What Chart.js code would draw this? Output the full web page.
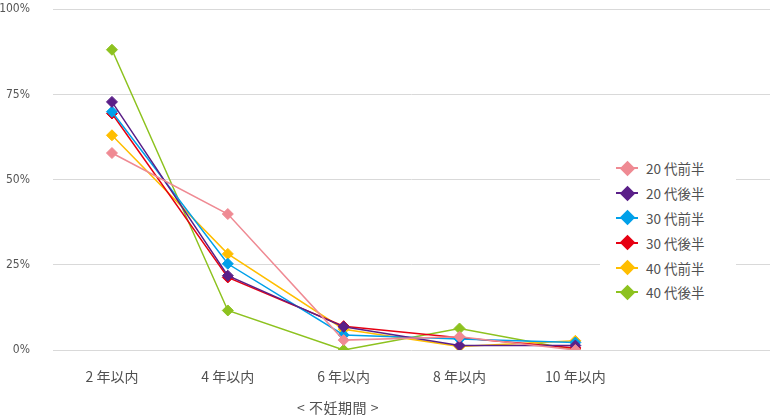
<!DOCTYPE html>
<html lang="ja">
<head>
<meta charset="utf-8">
<script src="https://cdn.jsdelivr.net/npm/chart.js@4"></script>
<style>
  html, body { margin: 0; padding: 0; background: #fff; }
  #wrap { position: relative; width: 770px; height: 415px; font-family: "Noto Sans CJK JP", "Noto Sans", sans-serif; }
  #chart { position: absolute; left: 0; top: 0; }
  #legend {
    position: absolute; left: 600px; top: 156px; width: 136px; height: 150px;
    background: #fff; box-sizing: border-box; padding-left: 16px; padding-top: 0;
  }
  .item { height: 24.8px; display: flex; align-items: center; font-size: 13.5px; color: #505050; }
  .mark { position: relative; width: 22px; height: 14px; margin-right: 8px; }
  .mark .ln { position: absolute; left: 0; top: 6px; width: 22px; height: 2px; }
  .mark .dm { position: absolute; left: 5.5px; top: 1.5px; width: 11px; height: 11px; transform: rotate(45deg); }
  #xtitle { position: absolute; left: 0; width: 676px; top: 397px; text-align: center; font-size: 14px; color: #505050; letter-spacing: 0.5px; }
</style>
</head>
<body>
<div id="wrap">
  <canvas id="chart" width="770" height="415"></canvas>
  <div id="legend"></div>
  <div id="xtitle">&lt; 不妊期間 &gt;</div>
</div>
<script>
// Categories (x axis)
const categories = ['2 年以内', '4 年以内', '6 年以内', '8 年以内', '10 年以内'];

// Y tick values (%)
const yTicks = [0, 25, 50, 75, 100];

// Series names and colours
const seriesNames = ['20 代前半', '20 代後半', '30 代前半', '30 代後半', '40 代前半', '40 代後半'];
const seriesColors = ['#EF8A93', '#5A1F88', '#00A0E9', '#E60012', '#FFBE00', '#8DC21F'];

// Series values (%)
const early20s = [57.8, 39.9, 2.9, 3.9, 0.0];
const late20s  = [72.8, 21.8, 6.8, 1.3, 1.3];
const early30s = [69.9, 25.3, 4.4, 3.2, 2.2];
const late30s  = [69.4, 21.3, 7.0, 3.6, 0.6];
const early40s = [63.0, 28.2, 6.1, 1.0, 2.7];
const late40s  = [88.1, 11.6, 0.0, 6.3, 0.0];

const seriesValues = [early20s, late20s, early30s, late30s, early40s, late40s];

const datasets = seriesNames.map((name, i) => ({
    label: name,
    data: seriesValues[i].map((v, j) => ({ x: j, y: v })),
    borderColor: seriesColors[i],
    backgroundColor: seriesColors[i],
    borderWidth: 1.5,
    pointStyle: 'rectRot',
    pointRadius: 5.5,
    pointBorderWidth: 1,
    tension: 0
}));

new Chart(document.getElementById('chart').getContext('2d'), {
    type: 'line',
    data: { datasets: datasets },
    options: {
        responsive: false,
        animation: false,
        layout: { autoPadding: false, padding: { top: 0, right: 0, left: 0, bottom: 0 } },
        plugins: {
            legend: { display: false },
            tooltip: { enabled: false }
        },
        scales: {
            x: {
                type: 'linear',
                min: -0.509,
                max: 5.68,
                grid: { display: false },
                border: { display: false },
                afterBuildTicks: (scale) => {
                    scale.ticks = categories.map((c, i) => ({ value: i }));
                },
                afterFit: (scale) => { scale.height = 65; },
                ticks: {
                    padding: 10,
                    color: '#505050',
                    font: { family: '"Noto Sans CJK JP", sans-serif', size: 14 },
                    callback: (value) => categories[value]
                }
            },
            y: {
                min: 0,
                max: 100,
                afterBuildTicks: (scale) => {
                    scale.ticks = yTicks.map(v => ({ value: v }));
                },
                afterFit: (scale) => { scale.width = 53; },
                // labels pushed left with an invisible tick mark
                grid: { color: '#d9d9d9', lineWidth: 1, drawTicks: true, tickLength: 21, tickColor: 'rgba(0,0,0,0)' },
                border: { display: false },
                ticks: {
                    padding: 2,
                    color: '#555',
                    font: { family: '"DejaVu Sans Condensed", "Liberation Sans", sans-serif', size: 12 },
                    callback: (value) => value + '%'
                }
            }
        }
    }
});

// Legend built from the series
const legend = document.getElementById('legend');
seriesNames.forEach((name, i) => {
    const item = document.createElement('div');
    item.className = 'item';
    item.innerHTML = `<span class="mark"><span class="ln" style="background:${seriesColors[i]}"></span>` +
        `<span class="dm" style="background:${seriesColors[i]}"></span></span><span>${name}</span>`;
    legend.appendChild(item);
});
</script>
</body>
</html>
